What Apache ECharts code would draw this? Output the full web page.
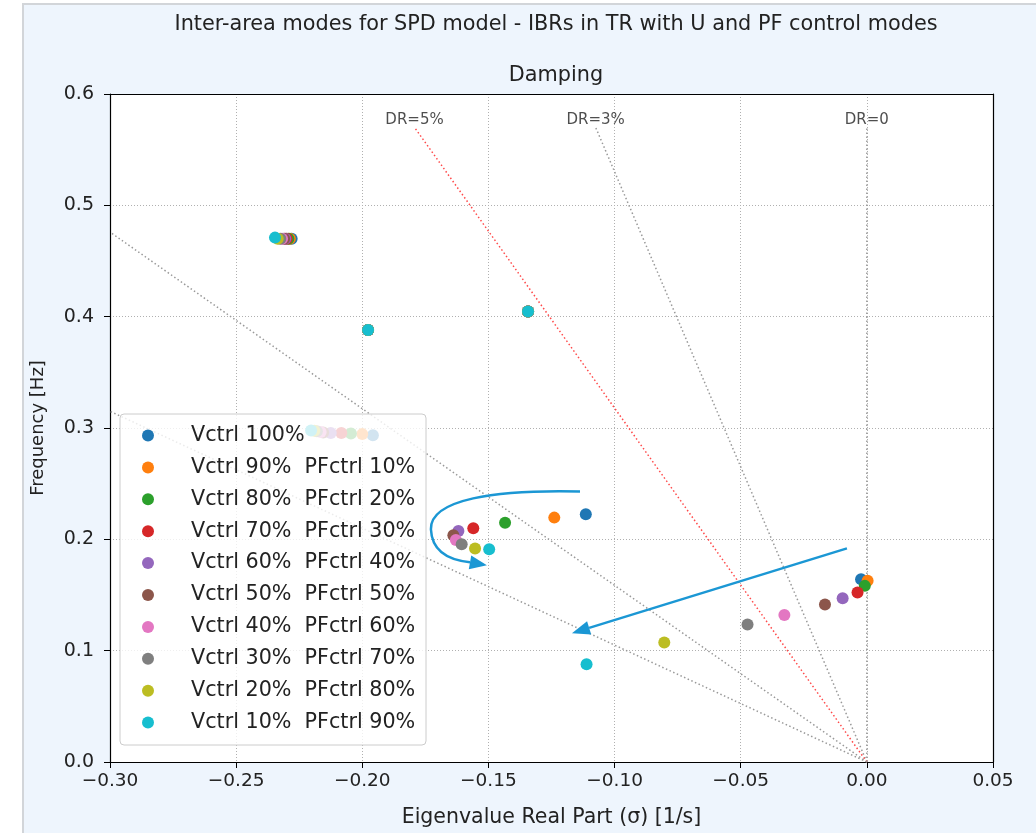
<!DOCTYPE html>
<html>
<head>
<meta charset="utf-8">
<script src="https://cdn.jsdelivr.net/npm/echarts@6/dist/echarts.min.js"></script>
<style>
  html, body { margin: 0; padding: 0; background: #ffffff; }
  #chart { width: 1036px; height: 833px; }
</style>
</head>
<body>
<div id="chart"></div>
<script>
// Control-mode cases, one scatter series each
const caseNames = [
  'Vctrl 100%',
  'Vctrl 90%  PFctrl 10%',
  'Vctrl 80%  PFctrl 20%',
  'Vctrl 70%  PFctrl 30%',
  'Vctrl 60%  PFctrl 40%',
  'Vctrl 50%  PFctrl 50%',
  'Vctrl 40%  PFctrl 60%',
  'Vctrl 30%  PFctrl 70%',
  'Vctrl 20%  PFctrl 80%',
  'Vctrl 10%  PFctrl 90%'
];
const caseColors = ['#1f77b4', '#ff7f0e', '#2ca02c', '#d62728', '#9467bd',
                    '#8c564b', '#e377c2', '#7f7f7f', '#bcbd22', '#17becf'];

// Inter-area eigenvalues per mode: real part sigma [1/s] and frequency [Hz], one value per case
const modeA_sigma = [-0.2280, -0.2287, -0.2293, -0.2300, -0.2305, -0.2310, -0.2318, -0.2325, -0.2335, -0.2346];
const modeA_freq  = [0.4700, 0.4700, 0.4700, 0.4700, 0.4700, 0.4700, 0.4700, 0.4700, 0.4700, 0.4710];
const modeB_sigma = [-0.1977, -0.1977, -0.1977, -0.1977, -0.1977, -0.1977, -0.1977, -0.1977, -0.1977, -0.1977];
const modeB_freq  = [0.3880, 0.3880, 0.3880, 0.3880, 0.3880, 0.3880, 0.3880, 0.3880, 0.3880, 0.3880];
const modeC_sigma = [-0.1343, -0.1343, -0.1343, -0.1343, -0.1343, -0.1343, -0.1343, -0.1343, -0.1343, -0.1343];
const modeC_freq  = [0.4046, 0.4046, 0.4046, 0.4046, 0.4046, 0.4046, 0.4046, 0.4046, 0.4046, 0.4046];
const modeD_sigma = [-0.1958, -0.2000, -0.2045, -0.2083, -0.2125, -0.2155, -0.2165, -0.2180, -0.2190, -0.2203];
const modeD_freq  = [0.2935, 0.2945, 0.2950, 0.2955, 0.2955, 0.2960, 0.2965, 0.2970, 0.2975, 0.2978];
const modeE_sigma = [-0.1114, -0.1239, -0.1434, -0.1560, -0.1619, -0.1639, -0.1629, -0.1606, -0.1553, -0.1497];
const modeE_freq  = [0.2225, 0.2195, 0.2150, 0.2099, 0.2075, 0.2036, 0.1994, 0.1955, 0.1917, 0.1911];
const modeF_sigma = [-0.0023, 0.0003, -0.0008, -0.0037, -0.0096, -0.0166, -0.0327, -0.0473, -0.0803, -0.1111];
const modeF_freq  = [0.1642, 0.1627, 0.1582, 0.1522, 0.1471, 0.1415, 0.1321, 0.1235, 0.1074, 0.0879];

const modeSigmas = [modeA_sigma, modeB_sigma, modeC_sigma, modeD_sigma, modeE_sigma, modeF_sigma];
const modeFreqs  = [modeA_freq, modeB_freq, modeC_freq, modeD_freq, modeE_freq, modeF_freq];

// Constant damping-ratio lines from the origin: end point [sigma, freq]
const drLabels   = ['DR=0', 'DR=3%', 'DR=5%', 'DR=10%', 'DR=15%'];
const drEnds     = [[0, 0.57], [-0.1075, 0.57], [-0.1793, 0.57], [-0.30, 0.476], [-0.30, 0.315]];
const drShowText = [true, true, true, false, false];
const drColors   = ['#999999', '#999999', '#ff4a4a', '#999999', '#999999'];

// Axis ticks
const xMin = -0.30, xMax = 0.05, xStep = 0.05;
const yMin = 0.0, yMax = 0.6, yStep = 0.1;

// Trend arrows in data units
const curvedArrow = [[-0.1137, 0.2430], [-0.1474, 0.2448], [-0.1732, 0.2359], [-0.1728, 0.2090],
                     [-0.1724, 0.1883], [-0.1652, 0.1812], [-0.1573, 0.1794]];
const curvedArrowTip = [-0.1506, 0.1767];
const straightArrow = [[-0.0079, 0.1919], [-0.1169, 0.1157]];

const fontMain = 'DejaVu Sans';
const arrowColor = '#1b97d4';

function fmtX(v) {
  const s = Math.abs(v).toFixed(2);
  return v < -1e-9 ? '\u2212' + s : s;
}

function headPoints(tip, base, half) {
  const dx = tip[0] - base[0], dy = tip[1] - base[1];
  const d = Math.hypot(dx, dy) || 1;
  const ux = dx / d, uy = dy / d;
  return [tip, [base[0] - uy * half, base[1] + ux * half], [base[0] + uy * half, base[1] - ux * half]];
}

const series = [];

// damping ratio lines
drEnds.forEach(function (end, i) {
  series.push({
    type: 'line',
    name: drLabels[i],
    data: [[0, 0], end],
    symbol: 'none',
    silent: true,
    z: 1,
    animation: false,
    clip: true,
    lineStyle: { color: drColors[i], width: 1.5, type: [1.5, 2.5] }
  });
});

// damping ratio labels
series.push({
  type: 'scatter',
  name: 'dr-text',
  symbolSize: 0,
  silent: true,
  z: 1,
  animation: false,
  data: drEnds.map(function (e, i) { return { value: e, name: drLabels[i] }; })
              .filter(function (d, i) { return drShowText[i]; }),
  label: {
    show: true, position: 'top', distance: 0, formatter: '{b}',
    fontSize: 15, fontFamily: fontMain, color: '#222'
  }
});

// eigenvalue scatter series
caseNames.forEach(function (name, c) {
  series.push({
    type: 'scatter',
    name: name,
    symbol: 'circle',
    symbolSize: 12,
    z: 2,
    animation: false,
    itemStyle: { color: caseColors[c], opacity: 1 },
    data: modeSigmas.map(function (s, m) { return [s[c], modeFreqs[m][c]]; })
  });
});

// trend arrows
series.push({
  type: 'custom',
  name: 'arrows',
  silent: true,
  z: 6,
  animation: false,
  clip: false,
  data: [[0, 0]],
  renderItem: function (params, api) {
    const p = curvedArrow.map(function (d) { return api.coord(d); });
    const tip = api.coord(curvedArrowTip);
    const path = 'M' + p[0][0] + ' ' + p[0][1] +
      ' C' + p[1][0] + ' ' + p[1][1] + ' ' + p[2][0] + ' ' + p[2][1] + ' ' + p[3][0] + ' ' + p[3][1] +
      ' C' + p[4][0] + ' ' + p[4][1] + ' ' + p[5][0] + ' ' + p[5][1] + ' ' + p[6][0] + ' ' + p[6][1];
    const s0 = api.coord(straightArrow[0]);
    const s1 = api.coord(straightArrow[1]);
    const sdx = s1[0] - s0[0], sdy = s1[1] - s0[1];
    const sd = Math.hypot(sdx, sdy);
    const headLen = 18;
    const sBase = [s1[0] - sdx / sd * headLen, s1[1] - sdy / sd * headLen];
    return {
      type: 'group',
      children: [
        { type: 'path', shape: { pathData: path },
          style: { fill: null, stroke: arrowColor, lineWidth: 2.5 } },
        { type: 'polygon', shape: { points: headPoints(tip, p[6], 7) },
          style: { fill: arrowColor } },
        { type: 'line', shape: { x1: s0[0], y1: s0[1], x2: sBase[0], y2: sBase[1] },
          style: { stroke: arrowColor, lineWidth: 2.5 } },
        { type: 'polygon', shape: { points: headPoints(s1, sBase, 7) },
          style: { fill: arrowColor } }
      ]
    };
  }
});

const chart = echarts.init(document.getElementById('chart'), null, { renderer: 'canvas' });

const spineAxis = {
  type: 'value',
  axisLine: { show: true, onZero: false, lineStyle: { color: '#000', width: 1.2 } },
  axisTick: { show: false },
  axisLabel: { show: false },
  splitLine: { show: false }
};

chart.setOption({
  animation: false,
  backgroundColor: 'transparent',
  color: caseColors,
  title: [
    {
      text: 'Inter-area modes for SPD model - IBRs in TR with U and PF control modes',
      left: 551, top: 9, textAlign: 'center',
      textStyle: { fontSize: 20.8, fontWeight: 'normal', fontFamily: fontMain, color: '#222' }
    },
    {
      text: 'Damping',
      left: 551, top: 60, textAlign: 'center',
      textStyle: { fontSize: 20.8, fontWeight: 'normal', fontFamily: fontMain, color: '#222' }
    }
  ],
  graphic: [
    {
      type: 'rect', z: -10, silent: true,
      shape: { x: 23, y: 4, width: 1020, height: 835 },
      style: { fill: '#eef5fd', stroke: '#d2d5d9', lineWidth: 2 }
    },
    {
      type: 'rect', z: 3, silent: true,
      shape: { x: 120, y: 414, width: 306, height: 331, r: 4 },
      style: { fill: 'rgba(255,255,255,0.8)', stroke: '#cccccc', lineWidth: 1 }
    }
  ],
  legend: {
    data: caseNames,
    orient: 'vertical',
    left: 142, top: 425,
    padding: 0,
    itemWidth: 12, itemHeight: 12, itemGap: 10.9,
    icon: 'circle',
    selectedMode: false,
    z: 4,
    textStyle: { fontSize: 20.7, fontFamily: fontMain, color: '#222', lineHeight: 20,
                 padding: [0, 0, 0, 32] }
  },
  grid: {
    left: 110, top: 94, width: 883, height: 669,
    show: true, backgroundColor: '#ffffff', borderWidth: 0
  },
  xAxis: [
    {
      type: 'value', min: xMin, max: xMax, interval: xStep,
      name: 'Eigenvalue Real Part (\u03c3) [1/s]',
      nameLocation: 'middle', nameGap: 45,
      nameTextStyle: { fontSize: 20.5, fontFamily: fontMain, color: '#222' },
      axisLine: { onZero: false, lineStyle: { color: '#000', width: 1.2 } },
      axisTick: { length: 6, lineStyle: { color: '#000', width: 1 } },
      axisLabel: { formatter: fmtX, fontSize: 18.5, fontFamily: fontMain, color: '#222', margin: 10 },
      splitLine: { show: true, lineStyle: { color: '#b0b0b0', width: 1, type: [1, 2] } }
    },
    Object.assign({ position: 'top', min: xMin, max: xMax }, spineAxis)
  ],
  yAxis: [
    {
      type: 'value', min: yMin, max: yMax, interval: yStep,
      name: 'Frequency [Hz]',
      nameLocation: 'middle', nameGap: 63,
      nameTextStyle: { fontSize: 18, fontFamily: fontMain, color: '#222' },
      axisLine: { onZero: false, lineStyle: { color: '#000', width: 1.2 } },
      axisTick: { length: 6, lineStyle: { color: '#000', width: 1 } },
      axisLabel: { formatter: function (v) { return v.toFixed(1); }, fontSize: 19,
                   fontFamily: fontMain, color: '#222', margin: 16 },
      splitLine: { show: true, lineStyle: { color: '#b0b0b0', width: 1, type: [1, 2] } }
    },
    Object.assign({ position: 'right', min: yMin, max: yMax }, spineAxis)
  ],
  series: series
});
</script>
</body>
</html>
